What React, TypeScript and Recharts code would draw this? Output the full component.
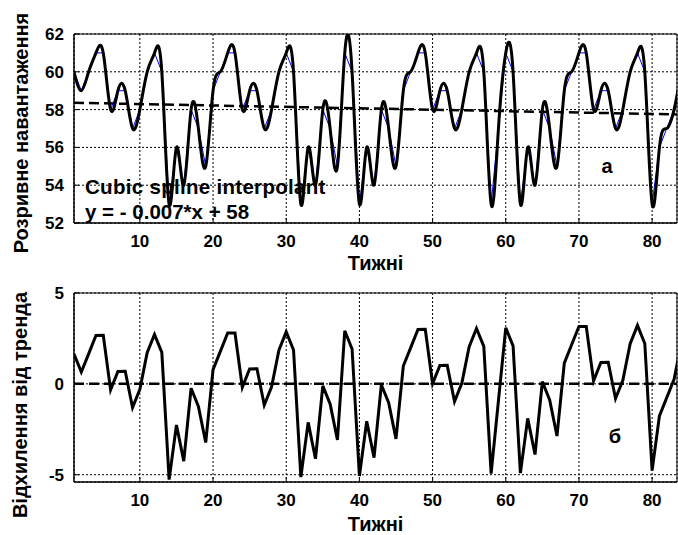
import React from 'react';
import { LineChart, Line, XAxis, YAxis, CartesianGrid, ReferenceLine, ReferenceArea } from 'recharts';

const weeks = [
  1, 2, 3, 4, 5, 6, 7, 8, 9, 10, 11, 12, 13, 14, 15, 16, 17, 18, 19, 20,
  21, 22, 23, 24, 25, 26, 27, 28, 29, 30, 31, 32, 33, 34, 35, 36, 37, 38, 39, 40,
  41, 42, 43, 44, 45, 46, 47, 48, 49, 50, 51, 52, 53, 54, 55, 56, 57, 58, 59, 60,
  61, 62, 63, 64, 65, 66, 67, 68, 69, 70, 71, 72, 73, 74, 75, 76, 77, 78, 79, 80,
  81, 82, 83, 84,
];

const load = [
  60, 59, 60, 61, 61, 58, 59, 59, 57, 58, 60, 61, 60, 53, 56, 54, 58, 57, 55, 59,
  60, 61, 61, 58, 59, 59, 57, 58, 60, 61, 60, 53, 56, 54, 58, 57, 55, 61, 60, 53,
  56, 54, 58, 57, 55, 59, 60, 61, 61, 58, 59, 59, 57, 58, 60, 61, 60, 53, 57, 61,
  60, 53, 56, 54, 58, 57, 55, 59, 60, 61, 61, 58, 59, 59, 57, 58, 60, 61, 60, 53,
  56, 57, 58, 60,
];

const deviation = [
  1.64, 0.65, 1.65, 2.66, 2.67, -0.33, 0.68, 0.69, -1.3, -0.3, 1.71, 2.72, 1.73, -5.27, -2.26, -4.25, -0.24, -1.24, -3.23, 0.78,
  1.79, 2.8, 2.8, -0.19, 0.82, 0.83, -1.17, -0.16, 1.85, 2.86, 1.86, -5.13, -2.12, -4.12, -0.11, -1.1, -3.09, 2.92, 1.92, -5.07,
  -2.06, -4.06, -0.05, -1.04, -3.03, 0.98, 1.98, 2.99, 3.0, 0.01, 1.01, 1.02, -0.97, 0.04, 2.04, 3.05, 2.06, -4.94, -0.93, 3.08,
  2.09, -4.91, -1.9, -3.89, 0.12, -0.88, -2.87, 1.14, 2.15, 3.16, 3.16, 0.17, 1.18, 1.19, -0.81, 0.2, 2.21, 3.22, 2.22, -4.77,
  -1.76, -0.76, 0.25, 2.26,
];

const xTicks = [10, 20, 30, 40, 50, 60, 70, 80];
const loadTicks = [52, 54, 56, 58, 60, 62];
const devTicks = [-5, 0, 5];
const trendWeeks = [1, 84];
const trendValues = [58.36, 57.74];
const xDomain = [1, 83.4];
const loadDomain = [52, 62];
const devDomain = [-5.4, 5];

const data = weeks.map((w, i) => ({ week: w, load: load[i], dev: deviation[i] }));

const FONT = "Arial, 'Liberation Sans', Helvetica, sans-serif";
const tickStyle = { fill: '#000', fontSize: 17, fontWeight: 'bold', fontFamily: FONT };
const labelStyle = { fill: '#000', fontSize: 20, fontWeight: 'bold', fontFamily: FONT } as const;

export default function App() {
  return (
    <div style={{ position: 'absolute', left: 0, top: 0, width: 678, height: 535, background: '#fff' }}>
      <div style={{ position: 'absolute', left: 0, top: 0 }}>
        <LineChart width={678} height={275} data={data} margin={{ top: 34, right: 1, bottom: 0, left: 0 }}>
          <CartesianGrid stroke="#000" strokeDasharray="2 2" strokeWidth={1} />
          <XAxis
            dataKey="week"
            type="number"
            domain={xDomain}
            ticks={xTicks}
            interval={0}
            allowDataOverflow
            height={52}
            tickSize={-5}
            tickMargin={17}
            tick={tickStyle}
            axisLine={{ stroke: '#000' }}
            tickLine={{ stroke: '#000' }}
          />
          <YAxis
            type="number"
            domain={loadDomain}
            ticks={loadTicks}
            interval={0}
            allowDataOverflow
            width={74}
            tickSize={-5}
            tickMargin={15}
            tick={tickStyle}
            axisLine={{ stroke: '#000' }}
            tickLine={{ stroke: '#000' }}
          />
          <ReferenceArea x1={xDomain[0]} x2={xDomain[1]} y1={loadDomain[0]} y2={loadDomain[1]} fill="none" fillOpacity={0} stroke="#000" strokeWidth={1} />
          <ReferenceLine
            segment={[{ x: trendWeeks[0], y: trendValues[0] }, { x: trendWeeks[1], y: trendValues[1] }]}
            stroke="#000"
            strokeWidth={2.5}
            strokeDasharray="10 5"
            ifOverflow="hidden"
          />
          <Line key="raw" dataKey="load" type="linear" stroke="#0000ff" strokeWidth={1} dot={false} activeDot={false} isAnimationActive={false} />
          <Line key="spline" dataKey="load" type="natural" stroke="#000" strokeWidth={3} dot={false} activeDot={false} isAnimationActive={false} />
        </LineChart>
      </div>
      <div style={{ position: 'absolute', left: 0, top: 275 }}>
        <LineChart width={678} height={260} data={data} margin={{ top: 18, right: 1, bottom: 0, left: 0 }}>
          <CartesianGrid stroke="#000" strokeDasharray="2 2" strokeWidth={1} />
          <XAxis
            dataKey="week"
            type="number"
            domain={xDomain}
            ticks={xTicks}
            interval={0}
            allowDataOverflow
            height={53}
            tickSize={-5}
            tickMargin={17}
            tick={tickStyle}
            axisLine={{ stroke: '#000' }}
            tickLine={{ stroke: '#000' }}
          />
          <YAxis
            type="number"
            domain={devDomain}
            ticks={devTicks}
            interval={0}
            allowDataOverflow
            width={74}
            tickSize={-5}
            tickMargin={15}
            tick={tickStyle}
            axisLine={{ stroke: '#000' }}
            tickLine={{ stroke: '#000' }}
          />
          <ReferenceArea x1={xDomain[0]} x2={xDomain[1]} y1={devDomain[0]} y2={devDomain[1]} fill="none" fillOpacity={0} stroke="#000" strokeWidth={1} />
          <ReferenceLine y={0} stroke="#000" strokeWidth={2.5} strokeDasharray="10 5" />
          <Line dataKey="dev" type="linear" stroke="#000" strokeWidth={3} dot={false} activeDot={false} isAnimationActive={false} />
        </LineChart>
      </div>
      <svg width={678} height={535} style={{ position: 'absolute', left: 0, top: 0, pointerEvents: 'none' }}>
        <text transform="translate(28,133) rotate(-90)" textAnchor="middle" style={labelStyle}>Розривне навантаження</text>
        <text transform="translate(27,405) rotate(-90)" textAnchor="middle" style={labelStyle}>Відхилення від тренда</text>
        <text x={375.5} y={270} textAnchor="middle" style={labelStyle}>Тижні</text>
        <text x={375.5} y={531} textAnchor="middle" style={labelStyle}>Тижні</text>
        <text x={85} y={194} style={{ ...labelStyle, fontSize: 20.5, letterSpacing: 0.3 }}>Cubic spline interpolant</text>
        <text x={85} y={219} style={{ ...labelStyle, fontSize: 20.5 }}>y = - 0.007*x + 58</text>
        <text x={607} y={173} textAnchor="middle" style={labelStyle}>а</text>
        <text x={615} y={443} textAnchor="middle" style={labelStyle}>б</text>
      </svg>
    </div>
  );
}
